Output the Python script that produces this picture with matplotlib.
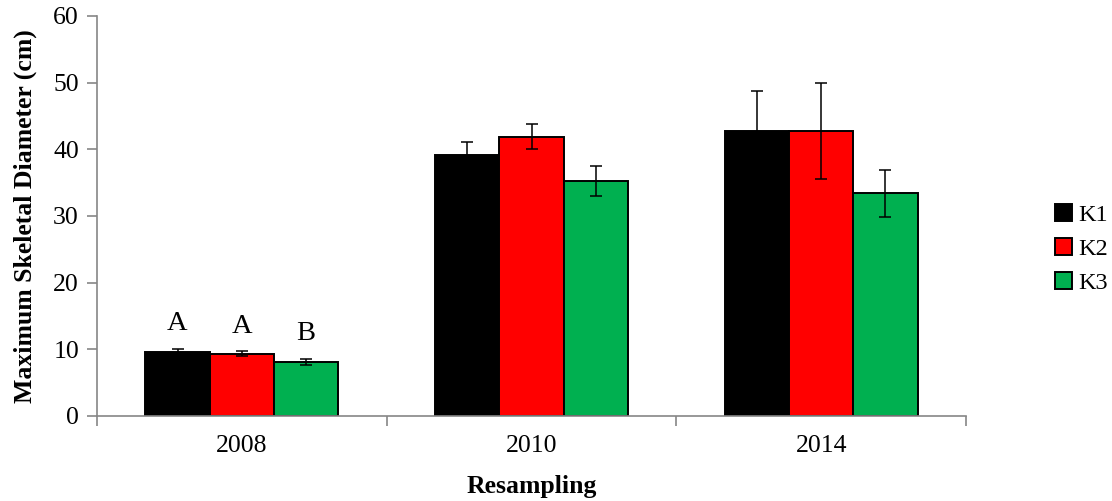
import matplotlib
matplotlib.use("Agg")
import matplotlib.pyplot as plt
import numpy as np

plt.rcParams['font.family'] = ['Liberation Serif', 'DejaVu Serif']

# Data
years = ["2008", "2010", "2014"]
series = ["K1", "K2", "K3"]
k1_mean = [9.55, 39.2, 42.8]
k2_mean = [9.35, 41.9, 42.8]
k3_mean = [8.1, 35.2, 33.4]
k1_err = [0.55, 1.9, 6.0]
k2_err = [0.35, 1.85, 7.2]
k3_err = [0.5, 2.25, 3.5]
letters_2008 = ["A", "A", "B"]

means = [k1_mean, k2_mean, k3_mean]
errs = [k1_err, k2_err, k3_err]
colors = ["#000000", "#FF0000", "#00B050"]

fig = plt.figure(figsize=(11.12, 5.01), dpi=100)
ax = fig.add_axes([97 / 1112, 1 - 416 / 501, (966 - 97) / 1112, 400 / 501])

centers = np.arange(len(years)) + 0.5
width = 0.222
offsets = [-width, 0.0, width]

for vals, err, col, off, name in zip(means, errs, colors, offsets, series):
    ax.bar(centers + off, vals, width=width, color=col, edgecolor="black",
           linewidth=1.4, label=name, zorder=2)
    ax.errorbar(centers + off, vals, yerr=err, fmt="none", ecolor="black",
                elinewidth=1.1, capsize=4.5, capthick=1.1, zorder=3)

# Significance letters above the 2008 bars
for i, (vals, err, off) in enumerate(zip(means, errs, offsets)):
    ax.annotate(letters_2008[i], (centers[0] + off, vals[0] + err[0]),
                xytext=(0, 9), textcoords="offset points",
                ha="center", va="bottom", fontsize=20.5)

ax.set_xlim(0, 3)
ax.set_ylim(0, 60)
ax.set_yticks(np.arange(0, 61, 10))
ax.set_xticks(centers)
ax.set_xticklabels(years)
ax.set_xticks([0, 1, 2, 3], minor=True)
ax.tick_params(axis="x", which="major", length=0, pad=14, labelsize=18.5)
ax.tick_params(axis="x", which="minor", length=7, width=1.2, color="#868686",
               direction="out")
ax.tick_params(axis="y", length=7, width=1.2, color="#868686",
               direction="out", labelsize=18.5, pad=6)

for s in ["top", "right"]:
    ax.spines[s].set_visible(False)
for s in ["left", "bottom"]:
    ax.spines[s].set_color("#868686")
    ax.spines[s].set_linewidth(1.2)

ax.set_xlabel("Resampling", fontsize=18.5, fontweight="bold")
ax.set_ylabel("Maximum Skeletal Diameter (cm)", fontsize=18.5,
              fontweight="bold", labelpad=12)
ax.xaxis.set_label_coords(0.5, -(487 - 416) / 400, transform=ax.transAxes)
ax.xaxis.label.set_va("center")

leg = ax.legend(loc="center left", bbox_to_anchor=(1055 / 1112, 1 - 249 / 501),
                bbox_transform=fig.transFigure, frameon=False, fontsize=17.5,
                handlelength=0.7, handleheight=0.7, handletextpad=0.25,
                labelspacing=0.5, borderaxespad=0, borderpad=0)

fig.savefig("out.png", dpi=100)
